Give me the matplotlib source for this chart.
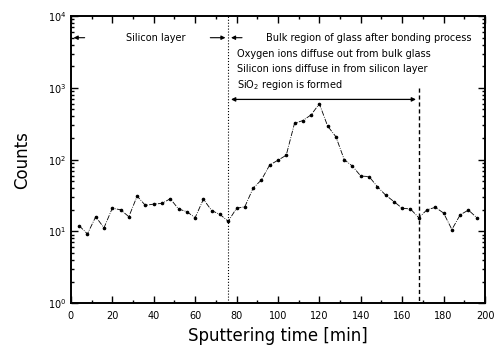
import numpy as np
import matplotlib
matplotlib.use('Agg')
import matplotlib.pyplot as plt
from matplotlib.ticker import LogLocator, MultipleLocator, NullFormatter

# sputtering time (min) and counts
time_min = [4, 8, 12, 16, 20, 24, 28, 32, 36, 40, 44, 48, 52, 56, 60, 64,
            68, 72, 76, 80, 84, 88, 92, 96, 100, 104, 108, 112, 116, 120,
            124, 128, 132, 136, 140, 144, 148, 152, 156, 160, 164, 168,
            172, 176, 180, 184, 188, 192, 196]
counts = [12, 9.2, 16, 11.2, 21, 20, 16, 31, 23, 24, 24.5, 28.5, 20.5,
          18.8, 15.5, 28, 19.5, 17.2, 13.8, 21, 22, 40, 52, 84, 98, 115,
          320, 350, 420, 600, 293, 208, 100, 81, 59, 58, 42, 32, 26, 21,
          20.5, 15.5, 20, 21.6, 18, 10.6, 17, 19.8, 15.5]

bond_start = 76     # end of silicon layer
sio2_end = 168      # end of SiO2 region
xlim = (0, 200)
ylim = (1, 1e4)

fig = plt.figure(figsize=(4.99, 3.5), dpi=100)
ax = fig.add_axes([0.142, 0.134, 0.830, 0.820])

ax.plot(time_min, counts, color='black', lw=0.6, ls='-.',
        marker='o', ms=1.6)

ax.set_yscale('log')
ax.set_xlim(*xlim)
ax.set_ylim(*ylim)

# boundaries
ax.axvline(bond_start, color='black', lw=0.8, ls=':')
ax.plot([sio2_end, sio2_end], [1000, ylim[0]], color='black', lw=1.0,
        ls=(0, (3, 2)))

# region arrows
arr = dict(arrowstyle='-|>', color='black', lw=0.8, mutation_scale=6)
ax.annotate('', xy=(0, 5000), xytext=(8, 5000), arrowprops=arr)
ax.annotate('', xy=(bond_start, 5000), xytext=(66, 5000), arrowprops=arr)
ax.annotate('', xy=(bond_start, 5000), xytext=(84, 5000), arrowprops=arr)
ax.text(41, 5000, 'Silicon layer', fontsize=7, ha='center', va='center')
ax.text(94, 5000, 'Bulk region of glass after bonding process',
        fontsize=7, ha='left', va='center')

ax.text(80, 3000, 'Oxygen ions diffuse out from bulk glass', fontsize=7,
        va='center')
ax.text(80, 1850, 'Silicon ions diffuse in from silicon layer', fontsize=7,
        va='center')
ax.text(80, 1080, 'SiO$_2$ region is formed', fontsize=7, va='center')
ax.annotate('', xy=(bond_start, 690), xytext=(sio2_end, 690),
            arrowprops=dict(arrowstyle='<|-|>', color='black', lw=0.9,
                            mutation_scale=6))

# ticks
ax.xaxis.set_major_locator(MultipleLocator(20))
ax.xaxis.set_minor_locator(MultipleLocator(10))
ax.yaxis.set_major_locator(LogLocator(base=10, numticks=10))
ax.yaxis.set_minor_locator(LogLocator(base=10, subs=np.arange(2, 10),
                                      numticks=10))
ax.yaxis.set_minor_formatter(NullFormatter())
ax.tick_params(which='both', direction='in', top=True, right=True,
               labelsize=7, width=1.0)
ax.tick_params(which='major', length=5)
ax.tick_params(which='minor', length=2.5)
ax.tick_params(axis='x', pad=6)
for s in ax.spines.values():
    s.set_linewidth(1.4)

ax.set_xlabel('Sputtering time [min]', fontsize=12, labelpad=4)
ax.set_ylabel('Counts', fontsize=12, labelpad=12)

fig.savefig('out.png', dpi=100)
